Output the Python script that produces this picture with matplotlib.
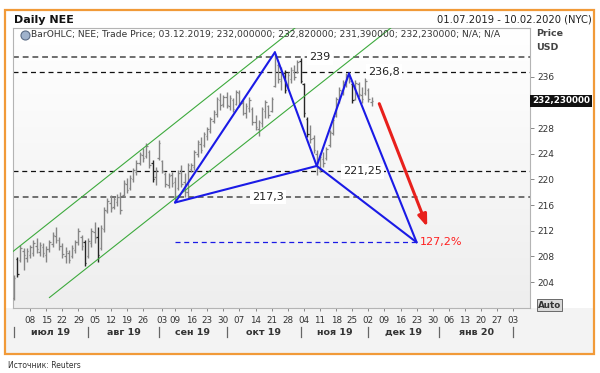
import numpy as np
import pandas as pd
import matplotlib
matplotlib.use("Agg")
import matplotlib.pyplot as plt
from matplotlib.patches import Rectangle, FancyArrowPatch
from matplotlib.colors import LinearSegmentedColormap
from matplotlib.lines import Line2D

W, H = 600, 373

# ---- data ----------------------------------------------------------------
# daily bars, 01.07.2019 .. 03.12.2019 (one slot per weekday)
high = [205.1, 207.9, 209.8, 209.3, 209.3, 209.8, 210.6, 210.9, 210.3, 210.1,
        209.6, 210.6, 211.8, 212.6, 211.0, 210.1, 209.5, 209.0, 209.8, 210.6,
        212.4, 211.3, 210.6, 210.9, 212.4, 213.4, 212.6, 212.9, 215.7, 217.1,
        217.6, 217.3, 217.7, 218.0, 219.9, 220.2, 220.7, 221.8, 223.0, 224.3,
        224.9, 225.7, 224.6, 223.0, 221.9, 226.1, 223.0, 221.2, 221.0, 221.2,
        220.4, 221.5, 222.3, 221.0, 222.6, 222.6, 224.6, 226.1, 226.6, 227.4,
        228.2, 229.7, 230.8, 232.8, 233.5, 233.2, 233.6, 233.2, 232.7, 233.9,
        233.9, 232.4, 231.9, 232.8, 231.3, 230.0, 229.3, 231.3, 232.4, 231.6,
        232.8, 239.7, 238.1, 237.5, 237.0, 236.7, 237.5, 237.8, 238.6, 238.9,
        235.0, 229.7, 228.5, 226.9, 224.6, 224.1, 224.3, 225.1, 227.7, 229.7,
        232.8, 234.4, 235.5, 236.6, 236.7, 235.0, 235.5, 235.2, 234.4, 235.8,
        234.2, 232.82]
low = [201.2, 204.8, 207.1, 205.9, 207.1, 207.8, 208.1, 208.5, 208.1, 207.9,
       207.1, 208.7, 209.5, 210.1, 209.0, 207.8, 207.0, 207.0, 207.8, 208.5,
       209.8, 209.0, 206.5, 207.8, 209.5, 210.1, 207.1, 209.0, 211.8, 214.8,
       214.9, 215.4, 215.9, 214.6, 217.3, 217.9, 218.4, 219.6, 220.7, 222.3,
       222.7, 223.3, 221.8, 219.6, 219.1, 223.0, 221.0, 218.8, 218.7, 218.8,
       216.5, 218.4, 218.8, 217.3, 217.3, 221.2, 221.5, 223.5, 224.1, 225.1,
       226.1, 227.2, 228.8, 229.7, 230.8, 231.3, 231.1, 230.8, 230.5, 231.6,
       231.3, 230.0, 229.6, 230.5, 228.5, 227.7, 226.8, 228.2, 229.6, 229.6,
       230.5, 234.4, 235.0, 233.9, 233.5, 234.2, 235.0, 235.5, 236.6, 235.0,
       229.7, 226.6, 225.7, 224.1, 220.7, 221.2, 221.9, 223.0, 225.1, 226.9,
       229.7, 231.9, 233.2, 234.4, 235.0, 231.9, 232.4, 232.8, 231.9, 233.2,
       232.1, 231.39]
open_ = [201.5, 207.6, 207.4, 208.9, 207.8, 208.2, 208.6, 209.6, 208.7, 209.5,
         208.2, 209.1, 209.9, 211.2, 210.5, 209.7, 208.1, 208.6, 208.0, 209.0,
         210.2, 211.0, 210.2, 208.0, 210.1, 211.8, 211.0, 209.3, 212.3, 215.1,
         216.4, 215.7, 216.5, 217.2, 217.6, 219.3, 218.6, 220.0, 221.2, 222.6,
         223.8, 223.6, 224.3, 222.6, 220.4, 223.4, 222.8, 220.9, 219.1, 220.7,
         219.6, 218.6, 221.4, 219.6, 218.0, 221.6, 222.0, 224.0, 225.5, 225.3,
         226.8, 227.6, 229.1, 230.2, 232.4, 231.7, 232.8, 231.4, 232.4, 231.8,
         233.5, 231.9, 230.3, 231.2, 231.0, 229.0, 227.8, 228.8, 230.6, 231.4,
         230.6, 234.6, 237.8, 235.4, 236.6, 234.5, 235.7, 237.0, 236.8, 238.5,
         234.8, 229.4, 227.0, 226.5, 224.0, 221.6, 223.2, 223.3, 225.3, 227.2,
         229.9, 232.3, 233.8, 234.9, 236.3, 234.8, 232.6, 234.8, 233.1, 233.4,
         234.0, 232.0]
close = [204.6, 205.2, 209.3, 208.2, 208.9, 209.4, 210.1, 209.1, 209.8, 208.6,
         209.2, 210.3, 211.4, 210.6, 209.6, 208.4, 208.9, 207.5, 209.3, 210.2,
         211.9, 209.7, 207.0, 210.4, 212.0, 210.8, 208.2, 212.4, 215.2, 216.6,
         215.5, 216.9, 217.3, 215.3, 219.5, 218.4, 220.3, 221.4, 222.6, 223.9,
         223.3, 225.2, 222.3, 220.1, 221.5, 225.6, 221.3, 219.3, 220.6, 219.4,
         217.4, 221.0, 219.3, 218.0, 222.2, 222.3, 224.3, 225.8, 224.6, 227.1,
         227.8, 229.4, 230.5, 232.5, 231.6, 232.9, 231.6, 232.7, 230.9, 233.6,
         231.8, 230.4, 231.4, 232.4, 228.9, 228.1, 229.0, 230.9, 232.0, 230.0,
         232.5, 238.9, 235.6, 236.8, 234.0, 236.3, 237.1, 236.0, 238.3, 235.4,
         230.3, 227.1, 226.3, 224.6, 221.8, 223.5, 222.6, 224.8, 227.4, 229.3,
         232.5, 234.0, 235.1, 236.2, 235.4, 232.4, 235.0, 233.3, 232.6, 235.3,
         232.5, 232.23]
last_close = 232.23

# harmonic pattern points
pattern_dates = ["2019-09-09", "2019-10-22", "2019-11-08", "2019-11-22", "2019-12-23"]
pattern_prices = [216.4, 239.8, 222.1, 236.5, 210.2]

# trend channel (slot index, price)
upper_channel = ([-1.0, 87.5], [208.5, 243.7])
lower_channel = ([11.0, 117.0], [201.6, 243.6])

# horizontal levels
levels = [239.0, 236.8, 221.25, 217.3]
level_labels = ["239", "236,8", "221,25", "217,3"]
target_level = 210.25
target_label = "127,2%"

# forecast arrow (slot index, price)
arrow_start = (113.4, 231.8)
arrow_end = (128.3, 212.6)

week_ticks = ["2019-07-08", "2019-07-15", "2019-07-22", "2019-07-29",
              "2019-08-05", "2019-08-12", "2019-08-19", "2019-08-26",
              "2019-09-03", "2019-09-09", "2019-09-16", "2019-09-23", "2019-09-30",
              "2019-10-07", "2019-10-14", "2019-10-21", "2019-10-28",
              "2019-11-04", "2019-11-11", "2019-11-18", "2019-11-25",
              "2019-12-02", "2019-12-09", "2019-12-16", "2019-12-23", "2019-12-30",
              "2020-01-06", "2020-01-13", "2020-01-20", "2020-01-27", "2020-02-03"]
month_starts = ["2019-07-01", "2019-08-01", "2019-09-02", "2019-10-01",
                "2019-11-01", "2019-12-02", "2020-01-01", "2020-02-03"]
month_names = ["июл 19", "авг 19", "сен 19", "окт 19", "ноя 19", "дек 19", "янв 20"]
y_ticks = [204, 208, 212, 216, 220, 224, 228, 232, 236]

# ---- helpers ---------------------------------------------------------------
slots = pd.bdate_range("2019-07-01", "2020-02-10")
def slot(d):
    return slots.get_loc(pd.Timestamp(d))

def fx(px):
    return px / W

def fy(py):
    return 1 - py / H

fig = plt.figure(figsize=(W / 100, H / 100), dpi=100)
fig.patch.set_facecolor("white")

# panel background + orange frame
fig.patches.append(Rectangle((fx(5), fy(354)), fx(594) - fx(5), fy(308) - fy(354),
                             transform=fig.transFigure, facecolor="#f3f3f3",
                             edgecolor="none", zorder=-5))
fig.patches.append(Rectangle((fx(5), fy(354)), fx(594) - fx(5), fy(10) - fy(354),
                             transform=fig.transFigure, facecolor="none",
                             edgecolor="#f19a38", lw=1.6, zorder=5))

ax = fig.add_axes([fx(13), fy(308), fx(530) - fx(13), fy(28) - fy(308)])
xmin, xmax = -0.31, 160.2
ymin, ymax = 199.97, 243.59
ax.set_xlim(xmin, xmax)
ax.set_ylim(ymin, ymax)

grad = LinearSegmentedColormap.from_list("bg", ["#ffffff", "#eeeeee"])
ax.imshow(np.linspace(0, 1, 256).reshape(-1, 1), cmap=grad, aspect="auto",
          extent=[xmin, xmax, ymin, ymax], zorder=0)

# OHLC bars
x = np.arange(len(high))
colors = ["#262626" if o - c > 2.3 else "#858585" for o, c in zip(open_, close)]
ax.vlines(x, low, high, colors=colors, lw=1.0, zorder=3)
ax.hlines(open_, x - 0.45, x, colors=colors, lw=0.9, zorder=3)
ax.hlines(close, x, x + 0.45, colors=colors, lw=0.9, zorder=3)

# channel
for cx, cy in (upper_channel, lower_channel):
    ax.plot(cx, cy, color="#3daa3d", lw=0.8, zorder=4)

# levels
level_style = [("#6e6e6e", 1.4, (3, 2)), ("#111111", 0.9, (4, 3)),
               ("#111111", 0.9, (4, 3)), ("#6e6e6e", 1.4, (3, 2))]
label_x = [95.0, 115.0, 108.1, 78.9]
for lv, lab, (c, lw, dash), lx in zip(levels, level_labels, level_style, label_x):
    ax.axhline(lv, color=c, lw=lw, dashes=dash, zorder=2)
    ax.text(lx, lv, lab, fontsize=8, color="#222222", ha="center", va="center",
            zorder=6, bbox=dict(facecolor="white", edgecolor="none", pad=1.5))

# pattern
px_ = [slot(d) for d in pattern_dates]
pa, pb, pc, pd_, pe = list(zip(px_, pattern_prices))
for p1, p2 in [(pa, pb), (pb, pc), (pc, pd_), (pd_, pe), (pa, pc), (pc, pe)]:
    ax.plot([p1[0], p2[0]], [p1[1], p2[1]], color="#1a1ae6", lw=1.5,
            solid_capstyle="round", zorder=5)

ax.plot([pa[0], pe[0]], [target_level, target_level], color="#1a1ae6", lw=0.9,
        dashes=(4, 3), zorder=4)
ax.text(pe[0] + 1.0, target_level, target_label, fontsize=8, color="#ff2020",
        ha="left", va="center", zorder=6)

ax.add_patch(FancyArrowPatch(arrow_start, arrow_end,
                             arrowstyle="-|>,head_length=7,head_width=2.6",
                             color="#e8201c", lw=2.2, mutation_scale=1,
                             shrinkA=0, shrinkB=0, zorder=6))

# axes styling
for s in ax.spines.values():
    s.set_color("#b4b4b4")
    s.set_linewidth(0.8)
ax.yaxis.tick_right()
ax.set_yticks(y_ticks)
ax.set_yticklabels(["" if t == 232 else str(t) for t in y_ticks])
ax.tick_params(axis="y", direction="out", length=3, width=0.7, color="#888888",
               labelsize=6.5, labelcolor="#333333", pad=2)
ax.set_xticks([slot(d) for d in week_ticks])
ax.set_xticklabels([pd.Timestamp(d).strftime("%d") for d in week_ticks])
ax.tick_params(axis="x", direction="out", length=2, width=0.7, color="#888888",
               labelsize=6.3, labelcolor="#333333", pad=4)

# month separators and names
ms = [slot(d) for d in month_starts]
tr = ax.get_xaxis_transform()
for m in ms:
    ax.plot([m, m], [-0.068, -0.104], transform=tr, color="#666666", lw=0.9,
            clip_on=False)
for a, b, name in zip(ms[:-1], ms[1:], month_names):
    ax.text((a + b) / 2, -0.086, name, transform=tr, ha="center", va="center",
            fontsize=6.8, fontweight="bold", color="#333333")

# last price box
ax.annotate(f"{last_close:.6f}".replace(".", ","), xy=(1.0, last_close),
            xycoords=("axes fraction", "data"), xytext=(1.5, 0),
            textcoords="offset points", ha="left", va="center", fontsize=6.3,
            fontweight="bold", color="white", annotation_clip=False,
            bbox=dict(facecolor="#111111", edgecolor="none", pad=1.2))

# header texts
fig.text(fx(14), fy(20), "Daily NEE", fontsize=8, fontweight="bold",
         color="#111111", ha="left", va="center")
fig.text(fx(592), fy(19), "01.07.2019 - 10.02.2020 (NYC)", fontsize=7.2,
         color="#222222", ha="right", va="center")
fig.lines.append(Line2D([fx(25)], [fy(35)], marker="o", ms=6.5, mfc="#9fb2cc",
                        mec="#5a6b85", mew=0.8, transform=fig.transFigure))
fig.text(fx(31), fy(35), "BarOHLC; NEE; Trade Price; 03.12.2019; 232,000000; "
         "232,820000; 231,390000; 232,230000; N/A; N/A",
         fontsize=6.6, color="#333333", ha="left", va="center")
fig.text(fx(536), fy(34), "Price", fontsize=6.8, fontweight="bold",
         color="#444444", ha="left", va="center")
fig.text(fx(536), fy(48), "USD", fontsize=6.8, fontweight="bold",
         color="#444444", ha="left", va="center")
fig.text(fx(538), fy(305), "Auto", fontsize=6.3, fontweight="bold",
         color="#333333", ha="left", va="center",
         bbox=dict(facecolor="#d9d9d9", edgecolor="#555555", lw=0.6, pad=0.8))
fig.text(fx(8), fy(366), "Источник: Reuters", fontsize=5.5, color="#333333",
         ha="left", va="center")

fig.savefig("out.png", dpi=100)
